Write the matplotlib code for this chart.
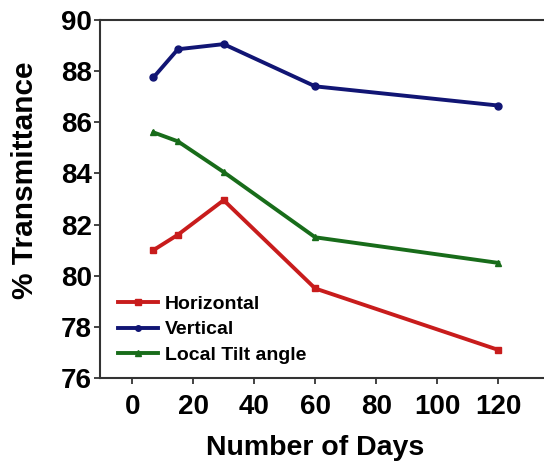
import matplotlib
matplotlib.use("Agg")
import matplotlib.pyplot as plt

days = [7, 15, 30, 60, 120]
horizontal = [81.0, 81.6, 82.95, 79.5, 77.1]
vertical = [87.75, 88.85, 89.05, 87.4, 86.65]
tilt = [85.6, 85.25, 84.05, 81.5, 80.5]
xticks = [0, 20, 40, 60, 80, 100, 120]
yticks = [76, 78, 80, 82, 84, 86, 88, 90]

plt.rcParams['font.family'] = ['Liberation Sans', 'DejaVu Sans']
plt.rcParams['font.weight'] = 'bold'

fig = plt.figure(figsize=(5.44, 4.61), dpi=100)
ax = fig.add_axes([0.184, 0.18, 0.816, 0.777])

ax.plot(days, horizontal, color='#c81c1c', lw=2.8, marker='s', ms=5, label='Horizontal')
ax.plot(days, vertical, color='#111574', lw=2.8, marker='o', ms=5, label='Vertical')
ax.plot(days, tilt, color='#186c1a', lw=2.8, marker='^', ms=5, label='Local Tilt angle')

ax.set_xlim(-10.5, 135)
ax.set_ylim(76, 90)
ax.set_xticks(xticks)
ax.set_yticks(yticks)
ax.tick_params(labelsize=20, width=1.2, length=4.5, direction='out', colors='#222222')
ax.tick_params(axis='y', pad=1.5)
ax.tick_params(axis='x', pad=7)
ax.tick_params(labelcolor='black')
for lab in ax.get_xticklabels() + ax.get_yticklabels():
    lab.set_fontweight('bold')
ax.spines['right'].set_visible(False)
for s in ['left', 'bottom', 'top']:
    ax.spines[s].set_linewidth(1.5)
    ax.spines[s].set_color('#333333')

ax.set_xlabel('Number of Days', fontsize=20.5, fontweight='bold')
ax.set_ylabel('% Transmittance', fontsize=21.5, fontweight='bold')
ax.xaxis.set_label_coords(0.484, -0.16)
ax.yaxis.set_label_coords(-0.137, 0.553)

leg = ax.legend(loc='lower left', frameon=False, fontsize=14, handlelength=2.06,
                handletextpad=0.36, labelspacing=0.41, borderaxespad=0.0, borderpad=0.0,
                bbox_to_anchor=(0.04, 0.039), markerscale=0.8)
for t in leg.get_texts():
    t.set_fontweight('bold')

fig.savefig('out.png', dpi=100)
